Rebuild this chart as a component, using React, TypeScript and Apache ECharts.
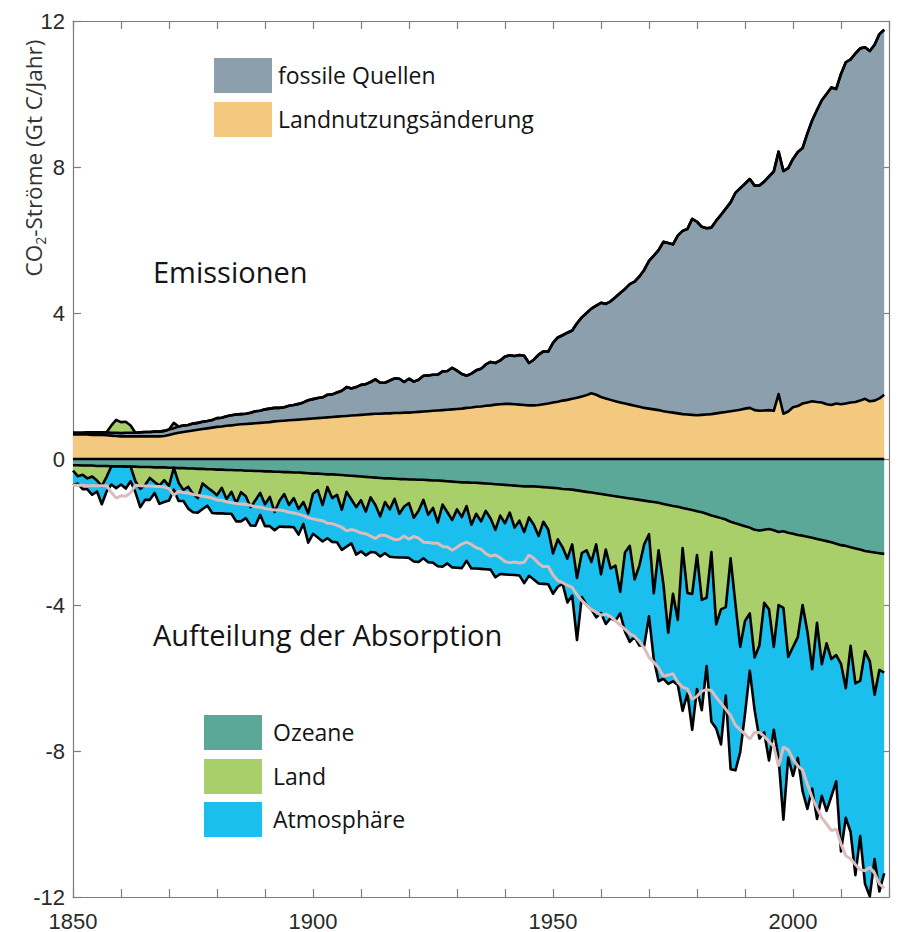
import React, { useEffect, useRef } from "react";
import * as echarts from "echarts";

const startYear = 1850;
const endAxisYear = 2020;

// fossil emissions (GtC/yr), 1850-2019
const fossil: number[] = [
  0.05, 0.05, 0.05, 0.06, 0.07, 0.07, 0.07, 0.08, 0.08, 0.09,
  0.09, 0.10, 0.10, 0.10, 0.11, 0.12, 0.12, 0.13, 0.13, 0.14,
  0.15, 0.15, 0.17, 0.18, 0.17, 0.19, 0.19, 0.20, 0.20, 0.21,
  0.24, 0.24, 0.26, 0.28, 0.28, 0.28, 0.28, 0.30, 0.33, 0.33,
  0.36, 0.37, 0.37, 0.36, 0.37, 0.40, 0.41, 0.43, 0.46, 0.51,
  0.53, 0.55, 0.56, 0.62, 0.62, 0.66, 0.70, 0.79, 0.74, 0.77,
  0.82, 0.83, 0.88, 0.94, 0.85, 0.84, 0.90, 0.95, 0.94, 0.84,
  0.93, 0.84, 0.88, 0.98, 0.98, 0.99, 0.98, 1.06, 1.06, 1.14,
  1.05, 0.95, 0.88, 0.93, 1.00, 1.03, 1.13, 1.19, 1.14, 1.20,
  1.30, 1.33, 1.32, 1.36, 1.35, 1.16, 1.25, 1.38, 1.45, 1.42,
  1.63, 1.76, 1.79, 1.84, 1.87, 2.04, 2.17, 2.25, 2.32, 2.44,
  2.58, 2.59, 2.70, 2.85, 3.00, 3.14, 3.30, 3.40, 3.57, 3.78,
  4.05, 4.21, 4.38, 4.64, 4.63, 4.61, 4.87, 5.02, 5.08, 5.37,
  5.30, 5.15, 5.10, 5.11, 5.28, 5.42, 5.57, 5.72, 5.96, 6.07,
  6.16, 6.27, 6.15, 6.17, 6.27, 6.40, 6.56, 6.64, 6.65, 6.67,
  6.80, 6.96, 7.00, 7.37, 7.70, 8.00, 8.28, 8.50, 8.70, 8.62,
  9.05, 9.35, 9.40, 9.55, 9.65, 9.63, 9.60, 9.75, 9.98, 10.0,
];

// land-use change emissions (GtC/yr)
const luc: number[] = [
  0.67, 0.67, 0.67, 0.67, 0.66, 0.66, 0.66, 0.65, 0.64, 0.63,
  0.62, 0.62, 0.62, 0.62, 0.62, 0.62, 0.62, 0.62, 0.62, 0.63,
  0.66, 0.69, 0.72, 0.74, 0.76, 0.78, 0.80, 0.82, 0.84, 0.86,
  0.88, 0.89, 0.91, 0.92, 0.94, 0.95, 0.96, 0.97, 0.98, 0.99,
  1.00, 1.01, 1.03, 1.04, 1.05, 1.06, 1.07, 1.08, 1.09, 1.10,
  1.11, 1.12, 1.13, 1.14, 1.15, 1.16, 1.17, 1.18, 1.19, 1.20,
  1.21, 1.22, 1.23, 1.24, 1.24, 1.25, 1.25, 1.26, 1.26, 1.27,
  1.27, 1.28, 1.29, 1.30, 1.31, 1.32, 1.33, 1.34, 1.35, 1.36,
  1.37, 1.38, 1.40, 1.41, 1.43, 1.44, 1.46, 1.47, 1.49, 1.50,
  1.51, 1.51, 1.50, 1.49, 1.48, 1.47, 1.47, 1.48, 1.50, 1.52,
  1.55, 1.57, 1.60, 1.62, 1.65, 1.68, 1.71, 1.75, 1.80, 1.76,
  1.70, 1.66, 1.62, 1.58, 1.55, 1.52, 1.49, 1.46, 1.43, 1.40,
  1.38, 1.36, 1.34, 1.31, 1.29, 1.27, 1.25, 1.23, 1.22, 1.21,
  1.20, 1.21, 1.22, 1.23, 1.25, 1.27, 1.29, 1.31, 1.33, 1.35,
  1.38, 1.40, 1.34, 1.32, 1.33, 1.34, 1.32, 1.78, 1.24, 1.30,
  1.42, 1.45, 1.52, 1.55, 1.58, 1.56, 1.55, 1.50, 1.48, 1.52,
  1.50, 1.52, 1.55, 1.56, 1.60, 1.65, 1.58, 1.60, 1.66, 1.76,
];

// ocean sink (GtC/yr, magnitude)
const ocean: number[] = [
  0.17, 0.17, 0.18, 0.18, 0.18, 0.19, 0.19, 0.19, 0.20, 0.20,
  0.20, 0.21, 0.21, 0.21, 0.22, 0.22, 0.22, 0.23, 0.23, 0.23,
  0.24, 0.24, 0.25, 0.25, 0.26, 0.26, 0.27, 0.27, 0.28, 0.28,
  0.29, 0.29, 0.30, 0.30, 0.31, 0.31, 0.32, 0.32, 0.33, 0.33,
  0.34, 0.34, 0.35, 0.35, 0.36, 0.36, 0.37, 0.37, 0.38, 0.39,
  0.40, 0.40, 0.41, 0.42, 0.42, 0.43, 0.44, 0.45, 0.46, 0.47,
  0.48, 0.49, 0.50, 0.51, 0.52, 0.53, 0.53, 0.54, 0.55, 0.55,
  0.56, 0.56, 0.57, 0.57, 0.58, 0.59, 0.59, 0.60, 0.61, 0.62,
  0.63, 0.64, 0.64, 0.65, 0.65, 0.66, 0.67, 0.68, 0.69, 0.70,
  0.71, 0.72, 0.73, 0.74, 0.75, 0.75, 0.75, 0.76, 0.77, 0.78,
  0.79, 0.80, 0.82, 0.83, 0.84, 0.86, 0.88, 0.90, 0.92, 0.94,
  0.96, 0.98, 1.00, 1.02, 1.04, 1.06, 1.08, 1.10, 1.12, 1.14,
  1.16, 1.18, 1.20, 1.23, 1.26, 1.29, 1.31, 1.34, 1.37, 1.40,
  1.43, 1.46, 1.50, 1.55, 1.58, 1.62, 1.66, 1.72, 1.76, 1.80,
  1.84, 1.88, 1.94, 1.96, 1.94, 1.92, 1.95, 2.00, 1.98, 2.02,
  2.05, 2.08, 2.10, 2.13, 2.16, 2.19, 2.22, 2.25, 2.28, 2.32,
  2.36, 2.38, 2.42, 2.45, 2.48, 2.52, 2.54, 2.56, 2.58, 2.60,
];

// land sink (GtC/yr, magnitude; negative = land acts as source)
const land: number[] = [
  0.15, 0.30, 0.25, 0.35, 0.30, 0.40, 0.55, 0.30, -0.20, -0.35,
  -0.30, -0.30, -0.20, 0.40, 0.60, 0.50, 0.30, 0.40, 0.50, 0.35,
  0.50, -0.15, 0.40, 0.60, 0.50, 0.70, 0.80, 0.40, 0.50, 0.60,
  0.70, 0.50, 0.80, 0.60, 0.90, 0.60, 0.70, 1.00, 0.80, 0.60,
  0.90, 0.70, 1.10, 0.80, 0.60, 0.90, 0.70, 1.00, 0.80, 1.10,
  0.55, 0.45, 0.85, 0.35, 0.65, 0.55, 0.95, 0.45, 0.65, 0.85,
  0.65, 0.95, 0.55, 0.75, 1.05, 0.65, 0.85, 0.55, 0.95, 0.75,
  0.65, 1.05, 0.85, 0.55, 0.95, 0.75, 1.15, 0.65, 0.85, 1.05,
  0.75, 0.95, 0.65, 1.15, 0.85, 1.05, 0.75, 0.95, 1.25, 0.85,
  1.05, 0.75, 1.15, 0.95, 1.25, 0.85, 1.05, 1.35, 0.95, 1.15,
  1.80, 1.40, 1.60, 1.90, 1.50, 2.40, 1.70, 1.60, 1.90, 1.40,
  2.20, 1.50, 2.00, 1.90, 2.60, 1.50, 1.30, 2.20, 1.80, 1.20,
  0.90, 2.50, 1.30, 2.20, 3.50, 2.40, 3.10, 1.10, 2.30, 2.30,
  1.20, 2.40, 2.30, 1.00, 2.95, 2.50, 2.40, 1.00, 2.20, 3.35,
  2.60, 2.35, 3.50, 3.15, 2.00, 2.20, 3.20, 2.00, 2.10, 3.40,
  3.10, 2.80, 1.90, 2.60, 3.60, 2.30, 3.40, 2.80, 3.20, 3.05,
  3.25, 3.90, 2.70, 3.70, 3.60, 2.75, 3.00, 3.90, 3.20, 3.25,
];

// atmospheric growth (GtC/yr)
const atm: number[] = [
  0.40, 0.20, 0.40, 0.30, 0.50, 0.30, 0.50, 0.40, 0.50, 0.60,
  0.50, 0.60, 0.40, 0.30, 0.50, 0.40, 0.60, 0.30, 0.50, 0.60,
  0.40, 0.60, 0.50, 0.30, 0.60, 0.50, 0.40, 0.70, 0.50, 0.60,
  0.50, 0.70, 0.40, 0.60, 0.50, 0.80, 0.60, 0.50, 0.70, 0.60,
  0.60, 0.80, 0.50, 0.70, 0.90, 0.60, 0.80, 0.70, 0.60, 0.80,
  1.10, 1.30, 1.00, 1.40, 1.20, 1.30, 1.10, 1.50, 1.20, 1.30,
  1.40, 1.20, 1.50, 1.30, 1.10, 1.40, 1.30, 1.60, 1.20, 1.40,
  1.50, 1.20, 1.40, 1.60, 1.30, 1.50, 1.20, 1.70, 1.40, 1.30,
  1.60, 1.40, 1.50, 1.20, 1.50, 1.30, 1.60, 1.40, 1.30, 1.60,
  1.40, 1.70, 1.30, 1.50, 1.40, 1.60, 1.50, 1.30, 1.70, 1.50,
  1.10, 1.30, 1.00, 1.20, 1.40, 1.70, 1.20, 1.50, 1.30, 2.00,
  1.06, 2.04, 1.36, 1.51, 0.59, 2.17, 2.63, 1.57, 2.19, 2.78,
  2.25, 1.81, 3.59, 2.59, 1.40, 2.40, 1.78, 4.46, 2.76, 3.72,
  3.67, 3.02, 1.87, 4.65, 2.85, 3.70, 2.42, 5.78, 4.57, 2.89,
  2.55, 1.57, 1.44, 2.55, 3.55, 4.14, 2.27, 4.21, 5.80, 2.76,
  3.53, 3.31, 5.10, 4.86, 3.27, 5.37, 3.61, 4.59, 3.76, 3.46,
  5.14, 3.55, 5.10, 5.25, 4.25, 6.37, 6.44, 4.50, 6.07, 5.50,
];

const yTicks = [-12, -8, -4, 0, 4, 8, 12];
const xLabelEvery = 50;
const xTickEvery = 10;

const emissionLegend = ["fossile Quellen", "Landnutzungsänderung"];
const sinkLegend = ["Ozeane", "Land", "Atmosphäre"];

const C_FOSSIL = "#8b9fad";
const C_LUC = "#f2c97f";
const C_OCEAN = "#5ba898";
const C_LAND = "#a9cf6b";
const C_ATM = "#1bbfee";
const C_TOTAL = "#dbbdbd";

export default function App() {
  const ref = useRef<HTMLDivElement>(null);

  useEffect(() => {
    document.body.style.margin = "0";
    const chart = echarts.init(ref.current as HTMLDivElement, null, { renderer: "svg" });

    const categories: string[] = [];
    for (let y = startYear; y <= endAxisYear; y++) categories.push(String(y));

    const landUp = land.map((v) => (v < 0 ? -v : 0));
    const landDown = land.map((v) => (v > 0 ? -v : 0));
    const oceanNeg = ocean.map((v) => -v);
    const atmNeg = atm.map((v) => -v);
    const totalNeg = fossil.map((v, i) => -(v + luc[i] + landUp[i]));
    const zero = fossil.map(() => 0);

    const area = (name: string, data: number[], stack: string, color: string) => ({
      name,
      type: "line",
      data,
      stack,
      symbol: "none",
      showSymbol: false,
      silent: true,
      lineStyle: { width: 0, opacity: 0 },
      areaStyle: { color, opacity: 1 },
      z: 2,
    });
    const outline = (name: string, data: number[], stack: string | undefined) => ({
      name,
      type: "line",
      data,
      stack,
      symbol: "none",
      showSymbol: false,
      silent: true,
      lineStyle: { color: "#000", width: 2.6, join: "round" },
      z: 3,
    });

    const axisColor = "#7d7d7d";
    const labelFont = { fontSize: 22, color: "#2a2a2a", fontFamily: "Liberation Sans" };
    const tickEvery = (idx: number) => (Number(categories[idx]) - startYear) % xTickEvery === 0;

    const legendRect = (x: number, y: number, fill: string) => ({
      type: "rect",
      shape: { x, y, width: 58, height: 35 },
      style: { fill },
      z: 10,
    });
    const legendText = (x: number, y: number, text: string) => ({
      type: "text",
      x,
      y,
      style: {
        text,
        fontSize: 23,
        fontFamily: "Open Sans",
        fill: "#141414",
        align: "left",
        verticalAlign: "middle",
      },
      z: 10,
    });

    const xBase = {
      type: "category",
      data: categories,
      boundaryGap: false,
      axisLine: { show: true, onZero: false, lineStyle: { color: axisColor, width: 1.2 } },
      axisTick: { show: true, inside: true, length: 8, interval: tickEvery, lineStyle: { color: axisColor, width: 1.2 } },
      splitLine: { show: false },
    };
    const yBase = {
      type: "value",
      min: yTicks[0],
      max: yTicks[yTicks.length - 1],
      interval: 4,
      axisLine: { show: true, onZero: false, lineStyle: { color: axisColor, width: 1.2 } },
      axisTick: { show: true, inside: true, length: 8, lineStyle: { color: axisColor, width: 1.2 } },
      splitLine: { show: false },
    };

    const option: any = {
      animation: false,
      grid: { left: 73, top: 21, width: 816, height: 877, containLabel: false },
      xAxis: [
        {
          ...xBase,
          position: "bottom",
          axisLabel: {
            ...labelFont,
            margin: 13,
            interval: (idx: number) => (Number(categories[idx]) - startYear) % xLabelEvery === 0,
          },
        },
        { ...xBase, position: "top", axisLabel: { show: false } },
      ],
      yAxis: [
        { ...yBase, position: "left", axisLabel: { ...labelFont, margin: 8 } },
        { ...yBase, position: "right", axisLabel: { show: false } },
      ],
      series: [
        area("Landnutzungsänderung", luc, "up", C_LUC),
        area("fossile Quellen", fossil, "up", C_FOSSIL),
        area("Land (Quelle)", landUp, "up", C_LAND),
        area("Ozeane", oceanNeg, "down", C_OCEAN),
        area("Land", landDown, "down", C_LAND),
        area("Atmosphäre", atmNeg, "down", C_ATM),
        outline("l-luc", luc, "upL"),
        outline("l-fossil", fossil, "upL"),
        outline("l-landUp", landUp, "upL"),
        outline("l-ocean", oceanNeg, "downL"),
        outline("l-land", landDown, "downL"),
        outline("l-atm", atmNeg, "downL"),
        outline("l-zero", zero, undefined),
        {
          name: "Emissionen gesamt",
          type: "line",
          data: totalNeg,
          symbol: "none",
          showSymbol: false,
          silent: true,
          lineStyle: { color: C_TOTAL, width: 3 },
          z: 4,
        },
      ],
      graphic: [
        legendRect(214, 58, C_FOSSIL),
        legendRect(214, 102, C_LUC),
        legendText(278, 75, emissionLegend[0]),
        legendText(278, 119, emissionLegend[1]),
        legendRect(204, 715, C_OCEAN),
        legendRect(204, 759, C_LAND),
        legendRect(204, 802, C_ATM),
        legendText(273, 732, sinkLegend[0]),
        legendText(273, 776, sinkLegend[1]),
        legendText(273, 819, sinkLegend[2]),
        {
          type: "text",
          x: 153,
          y: 271,
          style: { text: "Emissionen", fontSize: 29, fontFamily: "Open Sans", fill: "#141414", align: "left", verticalAlign: "middle" },
          z: 10,
        },
        {
          type: "text",
          x: 153,
          y: 634,
          style: { text: "Aufteilung der Absorption", fontSize: 29, fontFamily: "Open Sans", fill: "#141414", align: "left", verticalAlign: "middle" },
          z: 10,
        },
        {
          type: "text",
          x: 33,
          y: 158,
          rotation: Math.PI / 2,
          style: {
            text: "{a|CO}{s|2}{a|-Ströme (Gt C/Jahr)}",
            align: "center",
            verticalAlign: "middle",
            fill: "#333",
            rich: {
              a: { fontSize: 22.5, fontFamily: "Open Sans", fill: "#333", lineHeight: 28 },
              s: { fontSize: 14, fontFamily: "Open Sans", fill: "#333", lineHeight: 15, verticalAlign: "bottom" },
            },
          },
          z: 10,
        },
      ],
    };

    chart.setOption(option);
    return () => chart.dispose();
  }, []);

  return <div ref={ref} style={{ width: 900, height: 932 }} />;
}
